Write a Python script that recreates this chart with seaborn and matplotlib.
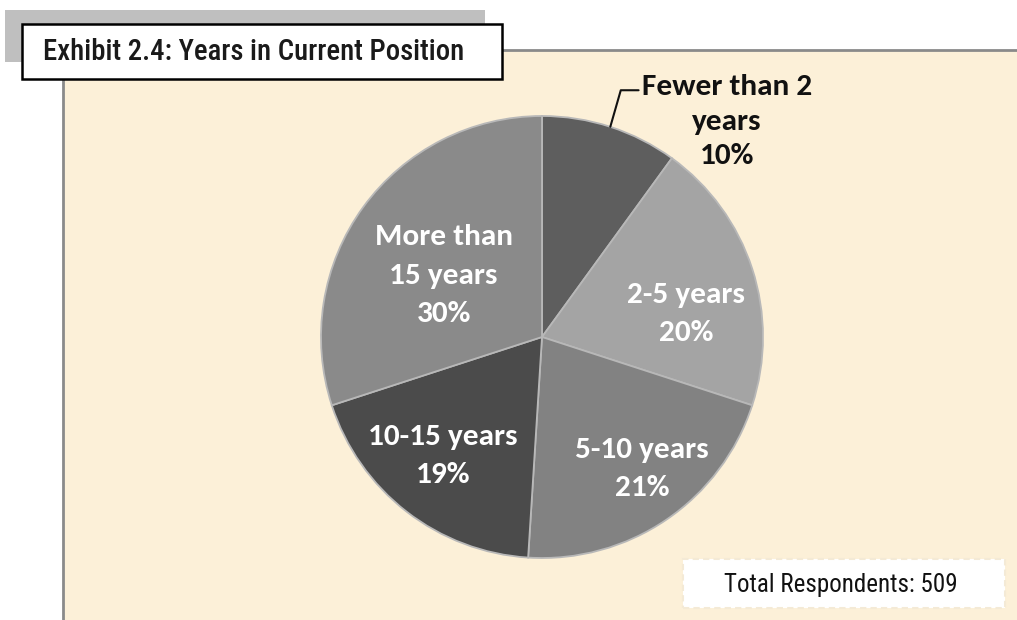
import numpy as np
import matplotlib
matplotlib.use("Agg")
import matplotlib.pyplot as plt
from matplotlib.patches import Rectangle
import seaborn as sns

# ---- data ----
categories = ["Fewer than 2\nyears", "2-5 years", "5-10 years", "10-15 years", "More than\n15 years"]
shares = [10, 20, 21, 19, 30]
slice_colors = ["#5e5e5e", "#a4a4a4", "#828282", "#4b4b4b", "#8a8a8a"]
title_text = "Exhibit 2.4: Years in Current Position"
note_text = "Total Respondents: 509"

sns.set_theme(style="white")
plt.rcParams["font.family"] = ["Carlito", "DejaVu Sans"]
NARROW = ["Roboto Condensed", "DejaVu Sans"]

W, H = 1017, 620
fig = plt.figure(figsize=(W / 100, H / 100), dpi=100)
fig.patch.set_facecolor("white")


def box(x0, y0, x1, y1, **kw):
    r = Rectangle((x0 / W, 1 - y1 / H), (x1 - x0) / W, (y1 - y0) / H,
                  transform=fig.transFigure, **kw)
    fig.patches.append(r)
    return r


# background panel (tan) with grey top/left border
box(63, 50, W + 5, H + 5, facecolor="#fcf0d8", edgecolor="#8a8a8a", linewidth=2, zorder=0)
# grey band behind the title
box(5, 10, 485, 62, facecolor="#bfbfbf", edgecolor="none", zorder=1)
# title box
box(22, 24, 502, 79, facecolor="white", edgecolor="black", linewidth=1.8, zorder=2)
fig.text(43 / W, 1 - 52 / H, title_text, ha="left", va="center", fontsize=20.7,
         family=NARROW, fontweight="medium", color="#1a1a1a", zorder=3)

# respondents note
box(683, 559, 1005, 608, facecolor="white", edgecolor="#f4ead6", linewidth=1.5,
    linestyle=(0, (3, 2)), zorder=2)
fig.text(841 / W, 1 - 585 / H, note_text, ha="center", va="center", fontsize=18,
         family=NARROW, color="#111111", zorder=3)

# pie
cx, cy, R = 542, 337, 221
ax = fig.add_axes([(cx - R) / W, 1 - (cy + R) / H, 2 * R / W, 2 * R / H])
ax.set_zorder(5)
ax.set_facecolor("none")
wedges, _ = ax.pie(shares, colors=slice_colors, startangle=90, counterclock=False,
                   wedgeprops=dict(edgecolor="#b8b8b8", linewidth=1.3))
ax.set_xlim(-1, 1)
ax.set_ylim(-1, 1)
ax.set_aspect("equal")
ax.axis("off")

# label placement (style): radius fraction and angular shift in degrees
label_radius = [None, 0.66, 0.75, 0.70, 0.525]
label_shift = [0, -9, 3, -2, 4]
for i, (w, lab, val) in enumerate(zip(wedges, categories, shares)):
    mid_deg = (w.theta1 + w.theta2) / 2
    txt = f"{lab}\n{val}%"
    if label_radius[i] is None:
        mid = np.deg2rad(mid_deg)
        ex, ey = np.cos(mid), np.sin(mid)
        ax.annotate(txt, xy=(ex, ey), xytext=(0.837, 0.975), ha="center", va="center",
                    fontsize=22.5, fontweight="bold", color="#111111", linespacing=1.4,
                    annotation_clip=False,
                    arrowprops=dict(arrowstyle="-", color="#111111", lw=1.5,
                                    connectionstyle="angle,angleA=0,angleB=74,rad=0",
                                    shrinkA=0, shrinkB=0, relpos=(0.0, 0.83)))
    else:
        r = label_radius[i]
        a = np.deg2rad(mid_deg + label_shift[i])
        ax.text(r * np.cos(a), r * np.sin(a), txt, ha="center", va="center",
                fontsize=22.5, fontweight="bold", color="white", linespacing=1.6)

fig.savefig("out.png", dpi=100, facecolor="white")
